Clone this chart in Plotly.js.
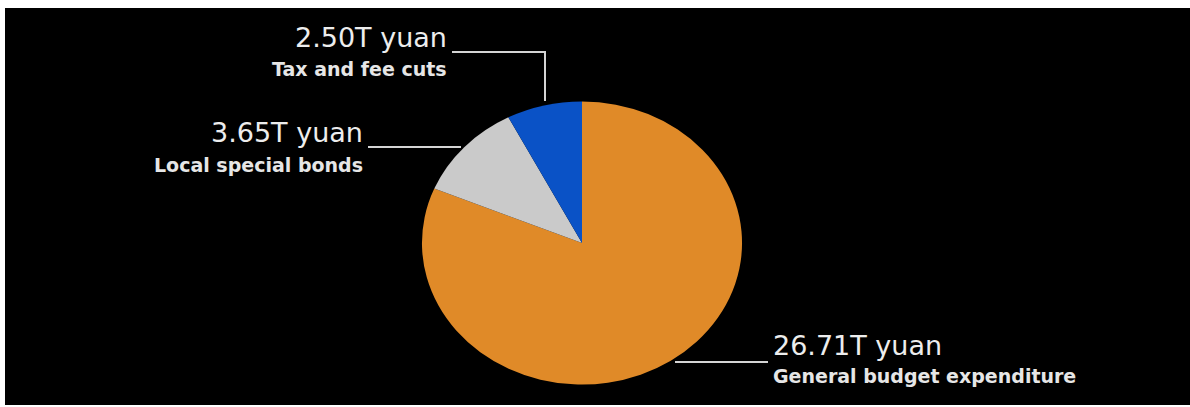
<!DOCTYPE html>
<html>
<head>
<meta charset="utf-8">
<script src="https://cdn.plot.ly/plotly-3.0.1.min.js"></script>
<style>
  html, body { margin: 0; padding: 0; background: #ffffff; width: 1190px; height: 407px; overflow: hidden; }
  #chart { position: absolute; left: 5px; top: 8px; width: 1185px; height: 397px; }
</style>
</head>
<body>
<div id="chart"></div>
<script>
// ---- data (listed clockwise from 12 o'clock) ----
const categories = ["General budget expenditure", "Local special bonds", "Tax and fee cuts"];
const values = [26.71, 3.65, 2.50];
const valueLabels = ["26.71T yuan", "3.65T yuan", "2.50T yuan"];
const colors = ["#E08A28", "#CACACA", "#0A52C6"];

// ---- layout helpers ----
const W = 1185, H = 397;
const px = x => x / W;
const py = y => 1 - y / H;

const cx = 577, cy = 235, r = 141.5;
const stretchX = 1.131;

const trace = {
  type: "pie",
  labels: categories,
  values: values,
  sort: false,
  direction: "clockwise",
  rotation: 0,
  textinfo: "none",
  hoverinfo: "skip",
  showlegend: false,
  marker: { colors: colors, line: { width: 0 } },
  domain: { x: [px(cx - r), px(cx + r)], y: [py(cy + r), py(cy - r)] }
};

const mainFont = { family: "DejaVu Sans", size: 27, color: "#EDEDED" };
const subFont = { family: "DejaVu Sans", size: 19, color: "#E6E6E6", weight: "bold" };

function ann(text, x, y, anchor, font) {
  return { text: text, x: px(x), y: py(y), xref: "paper", yref: "paper",
           xanchor: anchor, yanchor: "middle", showarrow: false, font: font };
}

const annotations = [
  ann(valueLabels[2], 444, 29.7, "right", mainFont),
  ann("<b>" + categories[2] + "</b>", 444, 61.4, "right", subFont),
  ann(valueLabels[1], 360, 124.7, "right", mainFont),
  ann("<b>" + categories[1] + "</b>", 360, 157.4, "right", subFont),
  ann(valueLabels[0], 766, 337.7, "left", mainFont),
  ann("<b>" + categories[0] + "</b>", 766, 368.4, "left", subFont)
];

function pathShape(pts) {
  const d = pts.map((p, i) => (i ? "L" : "M") + px(p[0]) + "," + py(p[1])).join(" ");
  return { type: "path", xref: "paper", yref: "paper", path: d,
           line: { color: "#D4D4D4", width: 2 } };
}

const shapes = [
  pathShape([[447, 44], [540, 44], [540, 93]]),
  pathShape([[363, 139], [456, 139]]),
  pathShape([[670, 354], [763, 354]])
];

const layout = {
  width: W, height: H,
  margin: { l: 0, r: 0, t: 0, b: 0 },
  paper_bgcolor: "#000000",
  plot_bgcolor: "#000000",
  showlegend: false,
  annotations: annotations,
  shapes: shapes
};

Plotly.newPlot("chart", [trace], layout, { staticPlot: true, displayModeBar: false }).then(gd => {
  const pl = gd.querySelector(".pielayer");
  if (pl) {
    pl.setAttribute("transform", `translate(${cx},0) scale(${stretchX},1) translate(${-cx},0)`);
  }
});
</script>
</body>
</html>
